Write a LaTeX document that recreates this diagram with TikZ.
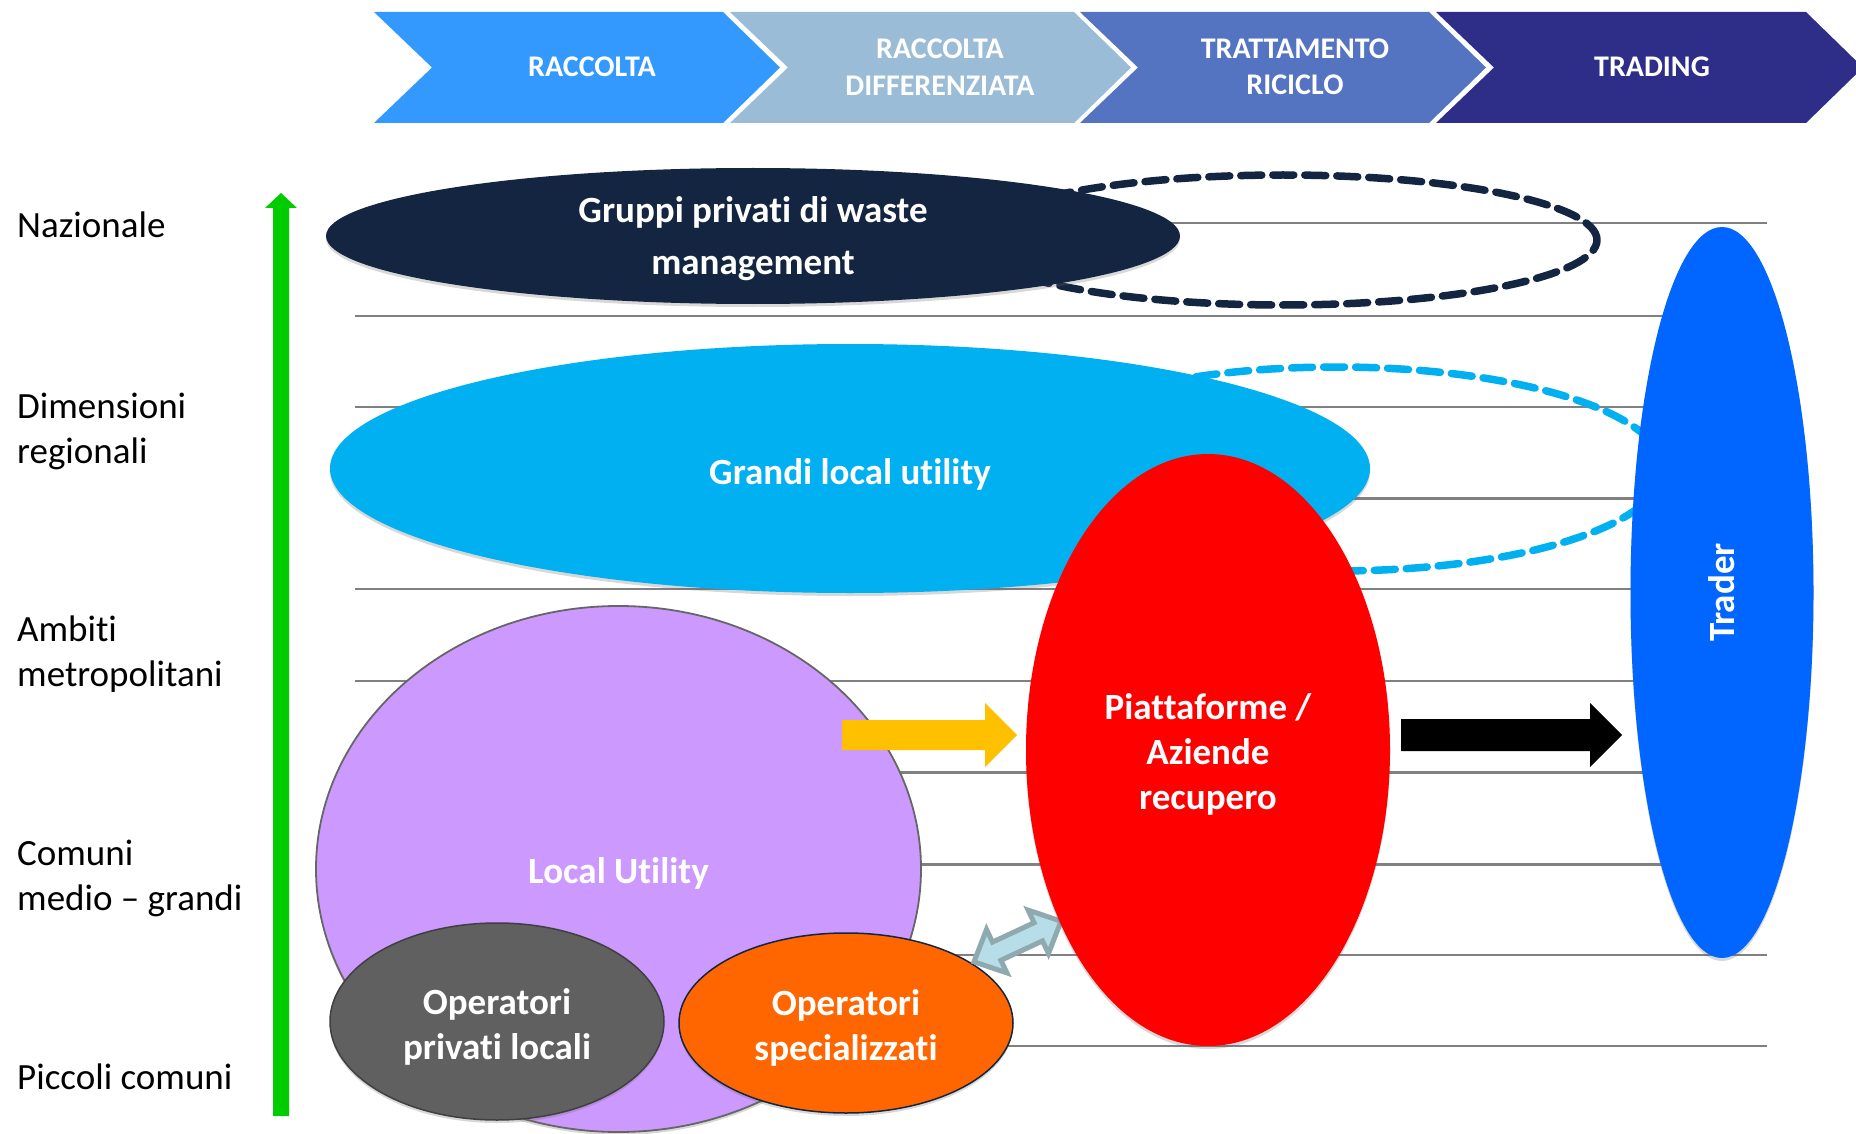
\documentclass[tikz,border=0pt]{standalone}
\usepackage{fontspec}
\setmainfont{Carlito}[Ligatures={TeX,NoCommon}]
\usetikzlibrary{shapes.geometric,shadows}
\definecolor{navy}{RGB}{19,37,64}
\definecolor{skyb}{RGB}{0,176,240}
\definecolor{tradeb}{RGB}{0,102,255}
\definecolor{lilac}{RGB}{204,153,255}
\definecolor{darkg}{RGB}{96,96,96}
\definecolor{orng}{RGB}{255,102,0}
\definecolor{ambr}{RGB}{255,192,0}
\definecolor{grn}{RGB}{0,204,0}
\definecolor{linegrey}{RGB}{128,128,128}
\definecolor{chevA}{RGB}{51,153,255}
\definecolor{chevB}{RGB}{155,188,214}
\definecolor{chevC}{RGB}{84,115,193}
\definecolor{chevD}{RGB}{46,45,136}
\definecolor{paleb}{RGB}{183,222,232}
\definecolor{paleedge}{RGB}{143,170,175}
\newcommand\fBody{\bfseries\fontsize{37}{45}\selectfont}
\newcommand\fLab{\fontsize{37}{45}\selectfont}
\newcommand\fChev{\bfseries\fontsize{30}{36.5}\selectfont}
\begin{document}
\begin{tikzpicture}[x=1pt,y=-1pt,
  band/.style={draw=linegrey,line width=2.5pt},
  chevtext/.style={text=white,font=\fChev,align=center,inner sep=0pt},
  lab/.style={anchor=base west,font=\fLab,align=left,inner sep=0pt,text=black},
  blob/.style={ellipse,inner sep=0pt,
    drop shadow={shadow xshift=0pt,shadow yshift=-3pt,opacity=0.25,fill=black!60}},
  txt/.style={text=white,font=\fBody,align=center,inner sep=0pt},
  dashring/.style={ellipse,inner sep=0pt,line width=7.5pt,line cap=round,dash pattern=on 21pt off 11pt}
]
\clip (0,0) rectangle (1856,1134);
\fill[white] (0,0) rectangle (1856,1134);

% value chain chevrons
\foreach \L/\R/\c in {374/723/chevA,730/1074/chevB,1080/1429/chevC,1436/1806/chevD}
  \fill[\c] (\L,12) -- (\R,12) -- (\R+57,67.5) -- (\R,123) -- (\L,123) -- (\L+58,67.5) -- cycle;
\node[chevtext] (c1) at (592,67) {RACCOLTA};
\node[chevtext] (c2) at (940,67) {RACCOLTA\\DIFFERENZIATA};
\node[chevtext] (c3) at (1295,67) {TRATTAMENTO\\RICICLO};
\node[chevtext] (c4) at (1652,67) {TRADING};

% horizontal guide lines
\foreach \y in {223,316,407,498.5,589,681,772.5,864.5,955,1046}
  \draw[band] (355,\y) -- (1767,\y);

% vertical scale labels (base = last line)
\node[lab] (l1) at (17,238) {Nazionale};
\node[lab] (l2) at (17,463) {Dimensioni\\regionali};
\node[lab] (l3) at (17,686) {Ambiti\\metropolitani};
\node[lab] (l4) at (17,910) {Comuni\\medio – grandi};
\node[lab] (l5) at (17,1089) {Piccoli comuni};

% green scale arrow
\fill[grn] (273,1116) -- (273,208) -- (265,208) -- (281,193) -- (297,208) -- (289,208) -- (289,1116) -- cycle;

% dashed extensions
\node[dashring,draw=navy,minimum width=628,minimum height=130] (ringA) at (1283,240) {};
\node[dashring,draw=skyb,minimum width=654,minimum height=204] (ringB) at (1336,469) {};

% main ellipses
\node[blob,fill=navy,minimum width=854,minimum height=136] (gruppi) at (753,236) {};
\node[txt,font=\bfseries\fontsize{37}{52}\selectfont] (gruppiT) at ([yshift=-3pt]gruppi.center) {Gruppi privati di waste\\management};
\node[blob,fill=skyb,minimum width=1040,minimum height=249] (grandi) at (850,468.5) {};
\node[txt] (grandiT) at ([yshift=-6pt]grandi.center) {Grandi local utility};
\node[blob,fill=tradeb,minimum width=183,minimum height=731] (trader) at (1722,592.5) {};
\node[txt,rotate=90] (traderT) at (trader.center) {Trader};
\node[blob,fill=lilac,draw=black!60,line width=1.8pt,minimum width=605,minimum height=526] (local) at (618.5,869) {};
\node[txt] (localT) at ([yshift=-4pt]local.center) {Local Utility};
\node[blob,fill=darkg,draw=black!75,line width=1.5pt,minimum width=334,minimum height=197] (privati) at (497,1021.5) {};
\node[txt] (privatiT) at ([yshift=-5pt]privati.center) {Operatori\\privati locali};
\node[blob,fill=orng,draw=navy,line width=1.5pt,minimum width=334,minimum height=180] (spec) at (846,1023) {};
\node[txt] (specT) at ([yshift=-5pt]spec.center) {Operatori\\specializzati};

% double arrow between specialised operators and recovery plants
\filldraw[fill=paleb,draw=paleedge,line width=5pt,line join=miter]
  (1061,921.2) -- (1048.5,953.5) -- (1042.5,940.9) -- (1000.9,960.3) -- (1006.9,972.9) --
  (974,961.8) -- (986.5,929.5) -- (992.5,942.1) -- (1034.1,922.7) -- (1028.1,910.1) -- cycle;

\node[blob,fill=red,minimum width=364,minimum height=592] (piatt) at (1208,750) {};
\node[txt] (piattT) at ([yshift=-4pt]piatt.center) {Piattaforme /\\Aziende\\recupero};

% block arrows
\fill[ambr] (842,720) -- (985,720) -- (985,703) -- (1017,735) -- (985,767) -- (985,750) -- (842,750) -- cycle;
\fill[black] (1401,719) -- (1590,719) -- (1590,703) -- (1622,735) -- (1590,767) -- (1590,751) -- (1401,751) -- cycle;
\end{tikzpicture}
\end{document}
